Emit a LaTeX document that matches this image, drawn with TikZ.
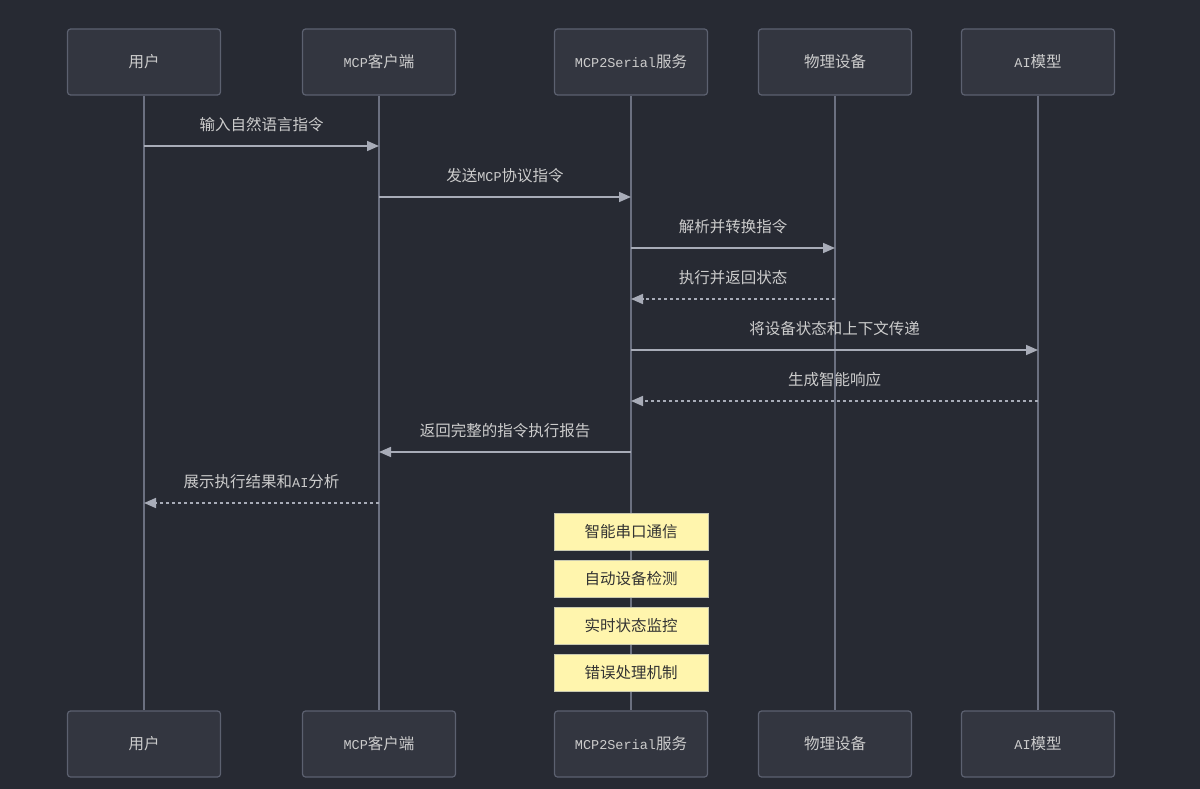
\documentclass[tikz,border=0pt]{standalone}
\usepackage{fontspec}
\setmainfont{Noto Sans CJK SC}
\newfontfamily\monof{Liberation Mono}
\usetikzlibrary{arrows.meta}
\newcommand{\mf}[1]{{\monof\fontsize{13.5}{14}\selectfont #1}}
\definecolor{bg}{HTML}{272A33}
\definecolor{actfill}{HTML}{333640}
\definecolor{actdraw}{HTML}{5C6170}
\definecolor{lifec}{HTML}{6B7080}
\definecolor{msgc}{HTML}{A8ACB8}
\definecolor{txtc}{HTML}{CCCCCC}
\definecolor{notefill}{HTML}{FFF5AD}
\definecolor{notedraw}{HTML}{C8C8B0}
\tikzset{
  actor/.style={draw=actdraw, fill=actfill, line width=1.2pt, rounded corners=3pt,
    minimum width=153pt, minimum height=66pt, inner sep=0pt, text=txtc,
    font=\fontsize{15.5}{16}\selectfont},
  life/.style={draw=lifec, line width=1.6pt},
  msg/.style={draw=msgc, line width=1.6pt, -{Triangle[length=12pt,width=10pt]}},
  rmsg/.style={msg, dash pattern=on 3pt off 3pt},
  lab/.style={text=txtc, font=\fontsize{15.5}{16}\selectfont, inner sep=0pt},
  notebox/.style={draw=notedraw, fill=notefill, line width=0.8pt, minimum width=154pt,
    minimum height=37pt, inner sep=0pt, text=black!80, font=\fontsize{15.5}{16}\selectfont}
}
\begin{document}
\begin{tikzpicture}[x=1pt,y=-1pt]
\fill[bg] (0,0) rectangle (1200,789);
\useasboundingbox (0,0) rectangle (1200,789);
% actors
\foreach \n/\x/\t in {u/144/用户, c/379/\mf{MCP}客户端, s/631/\mf{MCP2Serial}服务, d/835/物理设备, a/1038/\mf{AI}模型}{
  \node[actor] (\n t) at (\x,62) {\t};
  \node[actor] (\n b) at (\x,744) {\t};
}
\foreach \n in {u,c,s,d,a}{
  \draw[life] (\n t.south) -- (\n b.north);
}
% message anchor coordinates
\foreach \n/\x in {u/144,c/379,s/631,d/835,a/1038}{
  \foreach \k/\y in {1/146,2/197,3/248,4/299,5/350,6/401,7/452,8/503}{
    \coordinate (\n\k) at (\x,\y);
  }
}
\draw[msg] (u1) -- node[lab, above=13pt] {输入自然语言指令} (c1);
\draw[msg] (c2) -- node[lab, above=13pt] {发送\mf{MCP}协议指令} (s2);
\draw[msg] (s3) -- node[lab, above=13pt] {解析并转换指令} (d3);
\draw[rmsg] (d4) -- node[lab, above=13pt] {执行并返回状态} (s4);
\draw[msg] (s5) -- node[lab, above=13pt] {将设备状态和上下文传递} (a5);
\draw[rmsg] (a6) -- node[lab, above=13pt] {生成智能响应} (s6);
\draw[msg] (s7) -- node[lab, above=13pt] {返回完整的指令执行报告} (c7);
\draw[rmsg] (c8) -- node[lab, above=13pt] {展示执行结果和\mf{AI}分析} (u8);
% notes
\node[notebox] (n1) at (631,531.5) {智能串口通信};
\node[notebox] (n2) at (631,578.5) {自动设备检测};
\node[notebox] (n3) at (631,625.5) {实时状态监控};
\node[notebox] (n4) at (631,672.5) {错误处理机制};
\end{tikzpicture}
\end{document}
